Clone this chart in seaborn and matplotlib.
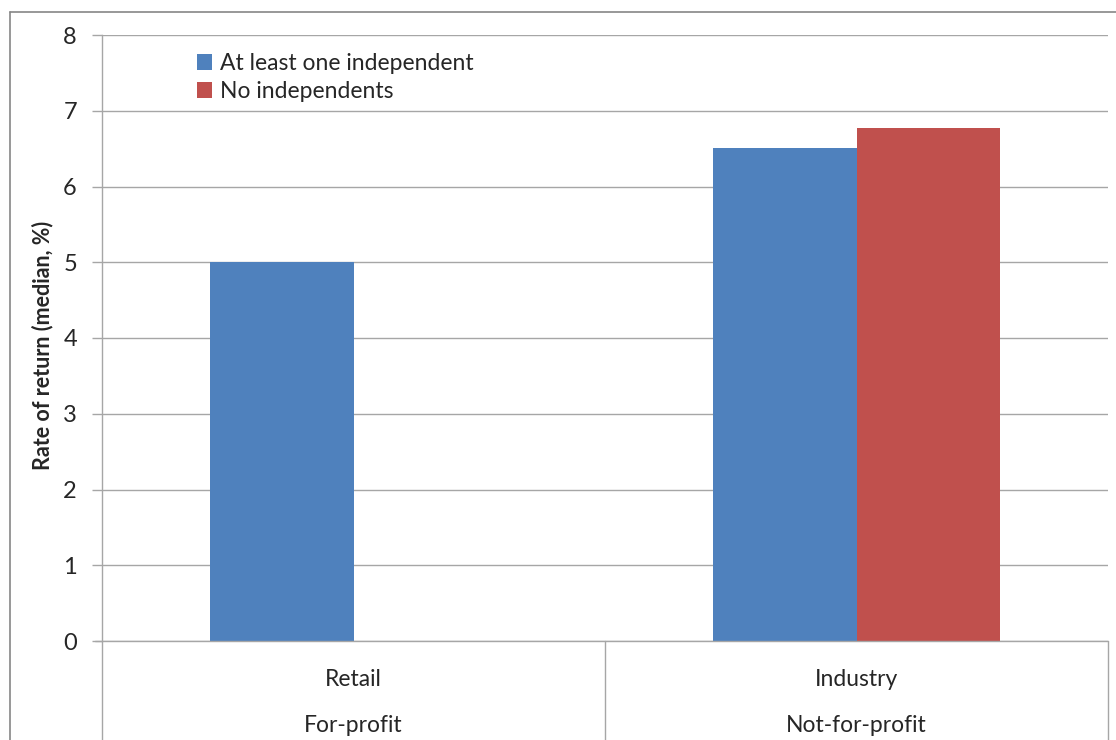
import matplotlib
matplotlib.use("Agg")
import matplotlib.pyplot as plt
import matplotlib.transforms as mtransforms
from matplotlib.lines import Line2D
import seaborn as sns
import pandas as pd
import numpy as np

# ---- data ----
categories = ["Retail", "Industry"]
groups = ["For-profit", "Not-for-profit"]
series_names = ["At least one independent", "No independents"]
at_least_one = [5.0, 6.51]
no_independents = [np.nan, 6.77]
y_ticks = [0, 1, 2, 3, 4, 5, 6, 7, 8]

colors = ["#4F81BD", "#C0504D"]

df = pd.DataFrame({
    "category": categories * 2,
    "series": [series_names[0]] * 2 + [series_names[1]] * 2,
    "value": at_least_one + no_independents,
})

sns.set_theme(style="white")
plt.rcParams["font.family"] = ["Lato", "DejaVu Sans"]

W, H = 1116, 740
fig = plt.figure(figsize=(W / 100, H / 100), dpi=100)
left, right, top, bottom = 102, 1108, 35, 641
ax = fig.add_axes([left / W, 1 - bottom / H, (right - left) / W, (bottom - top) / H])

sns.barplot(data=df, x="category", y="value", hue="series", order=categories,
            hue_order=series_names, palette=colors, width=0.5714, ax=ax,
            saturation=1, linewidth=0, errorbar=None)

ax.set_xlim(-0.5, 1.5)
ax.set_ylim(0, 8)
ax.set_yticks(y_ticks)
ax.set_yticklabels([str(t) for t in y_ticks], fontsize=17)
ax.yaxis.grid(True, color="#A6A6A6", linewidth=1.0)
ax.set_axisbelow(True)
for s in ["top", "right", "bottom"]:
    ax.spines[s].set_visible(False)
ax.spines["left"].set_color("#A6A6A6")
ax.spines["left"].set_linewidth(1.0)
ax.tick_params(axis="y", length=7, width=1, color="#A6A6A6", direction="out", pad=11, left=True)
ax.set_xticks([0, 1])
ax.set_xticklabels(categories, fontsize=16.5)
ax.tick_params(axis="x", length=0, pad=20)
ax.set_xlabel("")
ax.set_ylabel("Rate of return (median, %)", fontsize=15.5, fontweight="bold")
ax.yaxis.set_label_coords(-0.0487, 0.487)

# multi-level category axis lines
gray = "#A6A6A6"
ax.plot([-0.5 - 7 / 504, 1.5], [0, 0], color=gray, lw=1.0, clip_on=False, transform=ax.transData)
trans = mtransforms.blended_transform_factory(ax.transData, fig.transFigure)
for xv in [-0.5, 0.5, 1.5]:
    ax.add_line(Line2D([xv, xv], [1 - bottom / H, 0], transform=trans, color=gray, lw=1.0, clip_on=False))
for i, g in enumerate(groups):
    ax.text(i, 1 - 726 / H, g, transform=trans, ha="center", va="center", fontsize=16.5)

# legend
leg = ax.legend(loc="upper left", bbox_to_anchor=(0.0944, 0.970), frameon=False, fontsize=16.5,
                handlelength=0.65, handleheight=0.65, handletextpad=0.35, labelspacing=0.3,
                borderpad=0, borderaxespad=0)
leg.set_title(None)

# outer chart border
fig.add_artist(Line2D([10 / W, 1], [1 - 12 / H, 1 - 12 / H], transform=fig.transFigure, color="#868686", lw=1.2))
fig.add_artist(Line2D([10 / W, 10 / W], [1 - 12 / H, 0], transform=fig.transFigure, color="#868686", lw=1.2))

fig.savefig("out.png", dpi=100, facecolor="white")
